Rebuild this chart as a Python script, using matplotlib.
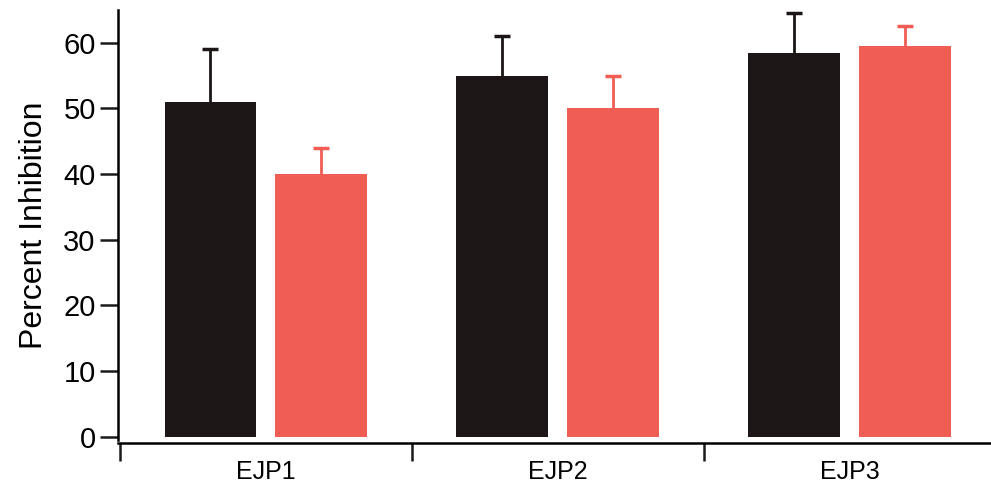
import matplotlib
matplotlib.use("Agg")
import matplotlib.pyplot as plt
import numpy as np

categories = ["EJP1", "EJP2", "EJP3"]
black_vals = [51, 55, 58.5]
black_err = [8, 6, 6]
red_vals = [40, 50, 59.5]
red_err = [4, 5, 3]
yticks = [0, 10, 20, 30, 40, 50, 60]

plt.rcParams['font.family'] = ['Liberation Sans', 'DejaVu Sans']

fig = plt.figure(figsize=(9.91, 4.91), dpi=100)
ax = fig.add_axes([0.119, 0.1039, 0.881, 0.8757])

x = np.arange(len(categories))
w = 0.315
off = 0.19
black_c = "#1c1616"
red_c = "#ef5d55"
ax.bar(x - off, black_vals, width=w, color=black_c, zorder=2)
ax.bar(x + off, red_vals, width=w, color=red_c, zorder=2)
for xs, vals, errs, c in [(x - off, black_vals, black_err, black_c),
                          (x + off, red_vals, red_err, red_c)]:
    eb = ax.errorbar(xs, vals, yerr=[np.zeros(len(vals)), errs], fmt='none',
                     ecolor=c, elinewidth=2, capsize=5.5, capthick=2.5, zorder=1.5)
    caps = eb.lines[1]
    if len(caps) > 1:
        caps[0].remove()

ax.set_xlim(-0.507, 2.483)
ax.set_ylim(-0.5, 65)
ax.spines['top'].set_visible(False)
ax.spines['right'].set_visible(False)
ax.spines['left'].set_linewidth(1.8)
ax.spines['bottom'].set_linewidth(1.8)
ax.spines['bottom'].set_position(('outward', 2.5))

ax.set_yticks(yticks)
ax.set_yticklabels([str(v) for v in yticks], fontsize=21)
ax.tick_params(axis='y', length=13, width=1.8, pad=3, color='#1a1a1a')

ax.set_xticks(x)
ax.set_xticklabels(categories, fontsize=18)
ax.set_xticks([-0.5, 0.5, 1.5], minor=True)
ax.tick_params(axis='x', which='major', length=0, pad=12)
ax.tick_params(axis='x', which='minor', length=13, width=1.8, color='#1a1a1a')

ax.set_ylabel("Percent Inhibition", fontsize=23, labelpad=10)

fig.savefig("out.png", dpi=100)
